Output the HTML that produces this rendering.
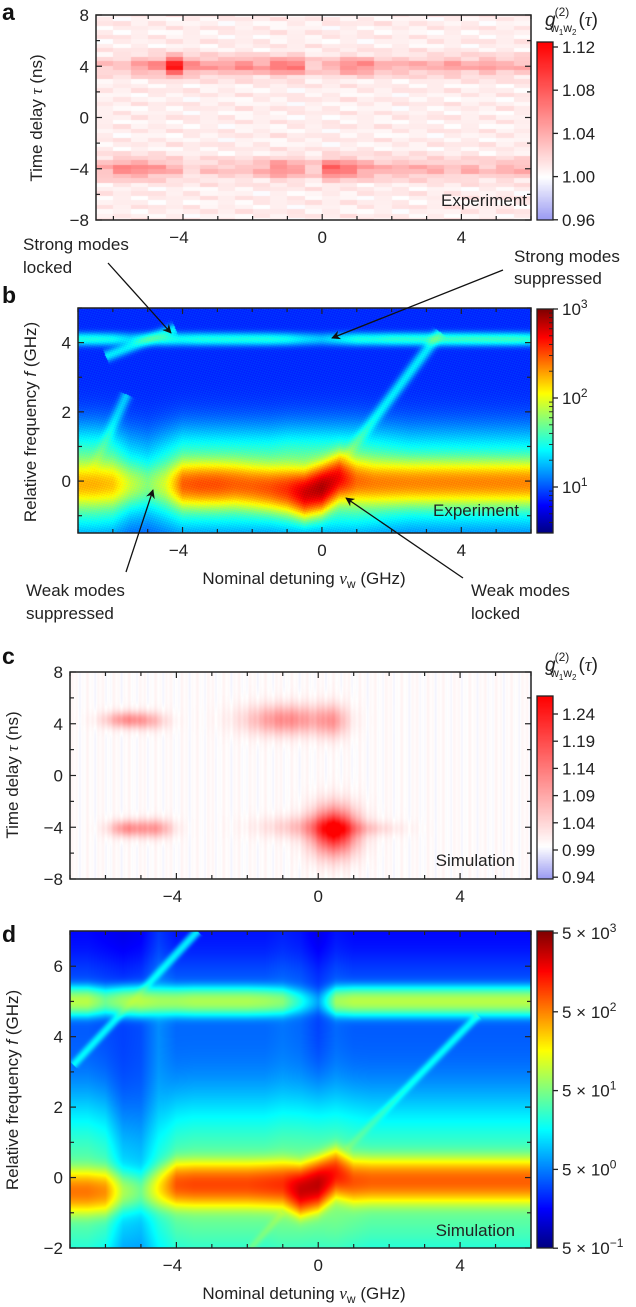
<!DOCTYPE html>
<html><head><meta charset="utf-8">
<style>
html,body{margin:0;padding:0;background:#fff;}
#root{position:relative;width:636px;height:1307px;overflow:hidden;font-family:"Liberation Sans",sans-serif;}
canvas{position:absolute;}
svg{position:absolute;left:0;top:0;}
</style></head>
<body>
<div id="root">
<canvas id="ca"></canvas>
<canvas id="cb"></canvas>
<canvas id="cc"></canvas>
<canvas id="cd"></canvas>
<canvas id="kba"></canvas>
<canvas id="kbb"></canvas>
<canvas id="kbc"></canvas>
<canvas id="kbd"></canvas>
<svg id="ov" width="636" height="1307"></svg>
</div>
<script>
// ---------- data ----------
const aCols = [-6.5,-6,-5.5,-5,-4.5,-4,-3.5,-3,-2.5,-2,-1.5,-1,-0.5,0,0.5,1,1.5,2,2.5,3,3.5,4,4.5,5,5.5];
const aBandPos = [0.02,0.02,0.04,0.05,0.11,0.05,0.04,0.04,0.05,0.04,0.06,0.06,0.02,0.03,0.05,0.05,0.03,0.03,0.03,0.03,0.04,0.03,0.04,0.03,0.03];
const aBandNeg = [0.03,0.05,0.05,0.04,0.03,0.01,0.02,0.02,0.02,0.03,0.05,0.04,0.02,0.07,0.06,0.04,0.03,0.03,0.03,0.03,0.02,0.03,0.02,0.03,0.03];
const bCols = [-7,-6.5,-6,-5.5,-5,-4.5,-4,-3.5,-3,-2.5,-2,-1.5,-1,-0.5,0,0.5,1,1.5,2,2.5,3,3.5,4,4.5,5,5.5,6];
const bCentral = [2.05,2.05,2.0,1.7,1.45,1.7,2.35,2.4,2.4,2.35,2.35,2.4,2.5,2.75,2.85,2.65,2.3,2.25,2.25,2.25,2.25,2.25,2.25,2.25,2.25,2.25,2.25];
const bCentre = [-0.1,-0.1,-0.1,-0.1,-0.1,-0.1,-0.1,-0.1,-0.1,-0.1,-0.15,-0.2,-0.25,-0.35,-0.2,0.1,0.0,-0.05,-0.05,-0.05,-0.05,-0.05,-0.05,-0.05,-0.05,-0.05,-0.05];
const b4Band = [1.35,1.35,1.3,1.1,1.25,1.35,1.3,1.35,1.35,1.35,1.35,1.35,1.3,1.15,1.05,1.2,1.35,1.35,1.4,1.4,1.4,1.45,1.45,1.45,1.45,1.45,1.4];
const bPedestal = [1.75,1.75,1.7,1.4,1.3,1.5,1.7,1.7,1.7,1.7,1.7,1.7,1.75,1.75,1.75,1.75,1.75,1.7,1.65,1.6,1.6,1.6,1.6,1.6,1.6,1.6,1.6];
const bLines = [[0.6,0.6,3.4,4.3,1.2],[-6.2,3.6,-4.2,4.4,1.2],[-6.6,0.3,-5.6,2.5,1.05]];
const cBlobX = [-5.4,-4.7,-5.4,-4.6,-0.9,0.4,0.45,-0.3,1.3];
const cBlobY = [4.3,4.2,-4.1,-4.1,4.3,4.2,-4.3,-4.0,-4.1];
const cBlobA = [0.11,0.05,0.11,0.10,0.12,0.08,0.25,0.06,0.04];
const cBlobWX = [0.45,0.35,0.35,0.35,0.8,0.3,0.45,0.9,0.7];
const cBlobWY = [0.45,0.5,0.45,0.5,0.8,0.9,1.3,0.6,0.4];
const dCols = [-7,-6.5,-6,-5.5,-5,-4.5,-4,-3.5,-3,-2.5,-2,-1.5,-1,-0.5,0,0.5,1,1.5,2,2.5,3,3.5,4,4.5,5,5.5,6];
const dCentral = [2.7,2.7,2.6,1.8,1.5,2.2,2.85,2.9,2.9,2.9,2.9,2.95,3.0,3.4,3.45,3.1,2.85,2.8,2.8,2.8,2.8,2.8,2.8,2.8,2.8,2.8,2.8];
const dCentre = [-0.4,-0.4,-0.4,-0.4,-0.4,-0.3,-0.2,-0.2,-0.2,-0.2,-0.2,-0.2,-0.2,-0.35,-0.2,0.1,-0.1,-0.1,-0.1,-0.1,-0.1,-0.1,-0.1,-0.1,-0.1,-0.1,-0.1];
const d5Band = [1.9,1.9,1.6,1.8,1.9,1.8,1.8,1.85,1.85,1.85,1.85,1.8,1.7,1.2,0.6,1.8,1.9,1.9,1.9,1.9,1.9,1.9,1.9,1.9,1.9,1.9,1.9];
const dPedestal = [1.6,1.6,1.5,1.0,0.9,1.3,1.6,1.65,1.65,1.65,1.65,1.65,1.7,1.7,1.7,1.7,1.65,1.6,1.6,1.6,1.6,1.6,1.6,1.6,1.6,1.6,1.6];
const dBg = [0.55,0.55,0.5,0.45,0.5,0.75,0.6,0.6,0.6,0.6,0.6,0.6,0.65,0.6,0.45,0.6,0.55,0.55,0.55,0.55,0.55,0.55,0.55,0.55,0.55,0.55,0.55];
const dLines = [[0.8,0.8,4.5,4.6,1.05],[-6.9,3.2,-3.4,7.0,1.05],[-1.9,-2.0,-1.0,-1.0,1.2]];

// ---------- helpers ----------
function interp(xs,ys,x){
  if(x<=xs[0])return ys[0]; if(x>=xs[xs.length-1])return ys[ys.length-1];
  for(let i=0;i<xs.length-1;i++){ if(x<=xs[i+1]){const t=(x-xs[i])/(xs[i+1]-xs[i]);return ys[i]+t*(ys[i+1]-ys[i]);} }
}
const cl=v=>Math.max(0,Math.min(1,v));
function jet(t){t=cl(t);return [cl(1.5-Math.abs(4*t-3)),cl(1.5-Math.abs(4*t-2)),cl(1.5-Math.abs(4*t-1))];}
function div(v,lo,hi){
  if(v>=1){const t=cl((v-1)/(hi-1));return [1,1-t,1-t];}
  const t=cl((1-v)/(1-lo));return [1-0.4*t,1-0.4*t,1-0.05*t];
}
function lineDist(L,x,f){const [x0,f0,x1,f1]=L;const dx=x1-x0,df=f1-f0;let t=((x-x0)*dx+(f-f0)*df)/(dx*dx+df*df);if(t<0||t>1)return 99;const px=x0+t*dx,pf=f0+t*df;return Math.hypot((x-px),(f-pf));}
function paint(id,x,y,w,h,fn){
  const c=document.getElementById(id);c.width=w;c.height=h;c.style.left=x+'px';c.style.top=y+'px';
  const ctx=c.getContext('2d');const img=ctx.createImageData(w,h);
  for(let j=0;j<h;j++)for(let i=0;i<w;i++){const col=fn(i,j,w,h);const k=(j*w+i)*4;
    img.data[k]=col[0]*255;img.data[k+1]=col[1]*255;img.data[k+2]=col[2]*255;img.data[k+3]=255;}
  ctx.putImageData(img,0,0);
}
const g=(d,s)=>Math.exp(-d*d/(2*s*s));

const PA={x:96,y:15,w:435,h:205,x0:-6.5,x1:6,y0:-8,y1:8};
const PB={x:78,y:308,w:453,h:225,x0:-7,x1:6,y0:-1.5,y1:5};
const PC={x:70,y:672,w:461,h:207,x0:-7,x1:6,y0:-8,y1:8};
const PD={x:70,y:931,w:461,h:317,x0:-7,x1:6,y0:-2,y1:7};
const X=(P,i)=>P.x0+(i+0.5)/P.w*(P.x1-P.x0);
const Y=(P,j)=>P.y1-(j+0.5)/P.h*(P.y1-P.y0);

paint('ca',PA.x,PA.y,PA.w,PA.h,(i,j)=>{
  const x=X(PA,i),t=Y(PA,j);
  const bi=Math.min(aCols.length-1,Math.floor((x-PA.x0)/0.5));
  const tb=Math.round(t/0.35)*0.35;
  const v=1.008+aBandPos[bi]*g(tb-4,0.5)+aBandNeg[bi]*g(tb+4,0.55)+0.01*Math.sin(tb*9.3+bi*2.1)*Math.cos(bi*1.7+tb*3.1);
  return div(v,0.96,1.1245);
});
paint('cb',PB.x,PB.y,PB.w,PB.h,(i,j)=>{
  const x=X(PB,i),f=Y(PB,j);
  let I=Math.pow(10,0.9);
  I+=Math.pow(10,interp(bCols,bCentral,x))*g(f-interp(bCols,bCentre,x),0.33);
  I+=Math.pow(10,interp(bCols,bPedestal,x))*g(f,0.8);
  I+=Math.pow(10,interp(bCols,b4Band,x))*g(f-4.1,0.11);
  for(const L of bLines)I+=Math.pow(10,L[4])*g(lineDist(L,x,f),0.1);
  const lv=Math.log10(I)+0.07*Math.sin(i*1.7+j*2.3)*Math.cos(i*0.9-j*1.3);
  return jet((lv-0.48)/(3-0.48));
});
paint('cc',PC.x,PC.y,PC.w,PC.h,(i,j)=>{
  const x=X(PC,i),t=Y(PC,j);
  let v=1.003+0.01*Math.sin(i*0.83)*Math.cos(i*0.37);
  for(let k=0;k<cBlobX.length;k++)v+=cBlobA[k]*g(x-cBlobX[k],cBlobWX[k])*g(t-cBlobY[k],cBlobWY[k]);
  return div(v,0.94,1.273);
});
paint('cd',PD.x,PD.y,PD.w,PD.h,(i,j)=>{
  const x=X(PD,i),f=Y(PD,j);
  const fade=1-0.55/(1+Math.exp(-(f-6)/0.3));
  let I=Math.pow(10,interp(dCols,dBg,x))*fade;
  I+=Math.pow(10,interp(dCols,dCentral,x))*g(f-interp(dCols,dCentre,x),0.3);
  I+=Math.pow(10,interp(dCols,dPedestal,x))*g(f+0.4,1.3);
  I+=Math.pow(10,interp(dCols,d5Band,x))*g(f-5,0.2);
  for(const L of dLines)I+=Math.pow(10,L[4])*g(lineDist(L,x,f),0.07);
  const lv=Math.log10(I);
  return jet((lv+0.3)/4);
});
paint('kba',537,42,16,178,(i,j,w,h)=>div(1.1245-(j/h)*(1.1245-0.96),0.96,1.1245));
paint('kbb',537,309,16,224,(i,j,w,h)=>jet(1-j/h));
paint('kbc',537,696,16,183,(i,j,w,h)=>div(1.273-(j/h)*(1.273-0.94),0.94,1.273));
paint('kbd',537,931,16,317,(i,j,w,h)=>jet(1-j/h));

const NS='http://www.w3.org/2000/svg';
const ov=document.getElementById('ov');
const FS=17;
function el(tag,attrs,parent){const e=document.createElementNS(NS,tag);for(const k in attrs)e.setAttribute(k,attrs[k]);(parent||ov).appendChild(e);return e;}
function txt(s,x,y,anchor,size,parent){const t=el('text',{x:x,y:y,'text-anchor':anchor||'middle','font-size':size||FS,fill:'#222'},parent);t.textContent=s;return t;}
function axes(P,name,xMaj,xMin,yMaj,yMin,yLabels,showXLabels){
  const gp=el('g',{});
  
  
  el('rect',{x:P.x,y:P.y,width:P.w,height:P.h,fill:'none',stroke:'#222','stroke-width':1.5},gp);
  const sx=v=>P.x+(v-P.x0)/(P.x1-P.x0)*P.w, sy=v=>P.y+(P.y1-v)/(P.y1-P.y0)*P.h;
  for(let v=Math.ceil(P.x0/xMin)*xMin;v<=P.x1+1e-9;v+=xMin){const maj=Math.abs(v/xMaj-Math.round(v/xMaj))<1e-6;const L=maj?6:4;
    el('line',{x1:sx(v),x2:sx(v),y1:P.y+P.h,y2:P.y+P.h-L,stroke:'#222','stroke-width':1.2},gp);
    el('line',{x1:sx(v),x2:sx(v),y1:P.y,y2:P.y+L,stroke:'#222','stroke-width':1.2},gp);
    if(maj&&showXLabels){txt(v<0?'\u2212'+(-v):String(v),sx(v)-(v<0?4:0),P.y+P.h+23,'middle',FS,gp);} }
  for(let v=Math.ceil(P.y0/yMin)*yMin;v<=P.y1+1e-9;v+=yMin){const maj=yLabels.includes(v);const L=maj?6:4;
    el('line',{x1:P.x,x2:P.x+L,y1:sy(v),y2:sy(v),stroke:'#222','stroke-width':1.2},gp);
    el('line',{x1:P.x+P.w,x2:P.x+P.w-L,y1:sy(v),y2:sy(v),stroke:'#222','stroke-width':1.2},gp);
    if(maj){txt(v<0?'\u2212'+(-v):String(v),P.x-7,sy(v)+6,'end',FS,gp);} }
}
axes(PA,'panel-a',4,1,4,2,[-8,-4,0,4,8],true);
axes(PB,'panel-b',4,1,2,1,[0,2,4],true);
axes(PC,'panel-c',4,1,4,2,[-8,-4,0,4,8],true);
axes(PD,'panel-d',4,1,2,1,[-2,0,2,4,6],true);
function cbar(x,y,h,ticks,name){
  const gp=el('g',{});
  
  
  el('rect',{x:x,y:y,width:16,height:h,fill:'none',stroke:'#222','stroke-width':1.3},gp);
  for(const t of ticks){el('line',{x1:x+16,x2:x+21,y1:t[0],y2:t[0],stroke:'#222','stroke-width':1.3},gp);
    const e=el('text',{x:x+25,y:t[0]+6,'font-size':FS,fill:'#222'},gp);e.innerHTML=t[1];}
  return gp;
}
const cbALabels=['1.12','1.08','1.04','1.00','0.96'];
cbar(537,42,178,cbALabels.map((s,k)=>[47+k*43.2,s]),'colorbar-a-axis');
const cbBTicks=[[309,'10<tspan dy="-7" font-size="12">3</tspan>'],[398,'10<tspan dy="-7" font-size="12">2</tspan>'],[487,'10<tspan dy="-7" font-size="12">1</tspan>']];
const gb=cbar(537,309,224,cbBTicks,'colorbar-b-axis');
for(let d=0;d<3;d++)for(let m=2;m<10;m++){const yy=487+89*(1-d)-89*Math.log10(m);if(yy>309&&yy<533)el('line',{x1:553,x2:549,y1:yy,y2:yy,stroke:'#222','stroke-width':0.9},gb);}
const cbCLabels=['1.24','1.19','1.14','1.09','1.04','0.99','0.94'];
cbar(537,696,183,cbCLabels.map((s,k)=>[714+k*27.2,s]),'colorbar-c-axis');
const cbDLabels=['3','2','1','0','\u22121'];
cbar(537,931,317,cbDLabels.map((s,k)=>[933+k*78.8,'5 \u00d7 10<tspan dy="-7" font-size="12">'+s+'</tspan>']),'colorbar-d-axis');

function rot(s,x,y,name){const t=el('text',{x:0,y:0,'text-anchor':'middle','font-size':FS,fill:'#222',transform:`translate(${x},${y}) rotate(-90)`});t.innerHTML=s;
  
  }
rot('Time delay <tspan font-style="italic" font-family="Liberation Serif">τ</tspan> (ns)',42,118,'y-axis-title-a');
rot('Relative frequency <tspan font-style="italic">f</tspan> (GHz)',36,422,'y-axis-title-b');
rot('Time delay <tspan font-style="italic" font-family="Liberation Serif">τ</tspan> (ns)',18,775,'y-axis-title-c');
rot('Relative frequency <tspan font-style="italic">f</tspan> (GHz)',18,1090,'y-axis-title-d');
function xt(y,name){const t=el('text',{x:304,y:y,'text-anchor':'middle','font-size':FS,fill:'#222'});
  t.innerHTML='Nominal detuning <tspan font-style="italic" font-family="Liberation Serif">ν</tspan><tspan font-size="12" dy="4">w</tspan><tspan dy="-4"> (GHz)</tspan>';
  
  }
xt(584,'x-axis-title-b');xt(1299,'x-axis-title-d');
function g2(y,name){const t=el('text',{x:545,y:y,'font-size':19,fill:'#222'});
  t.innerHTML='<tspan font-style="italic">g</tspan><tspan font-size="12" dy="-10" dx="-1">(2)</tspan><tspan font-size="12" dy="16" dx="-19">w</tspan><tspan font-size="8" dy="3">1</tspan><tspan font-size="12" dy="-3">w</tspan><tspan font-size="8" dy="3">2</tspan><tspan dy="-9" dx="2">(</tspan><tspan font-family="Liberation Serif" font-style="italic">τ</tspan><tspan>)</tspan>';
  
  }
g2(26,'colorbar-title-a');g2(671,'colorbar-title-c');
[['a',20],['b',303],['c',664],['d',942]].forEach(([s,y])=>{const t=el('text',{x:2,y:y,'font-size':23,'font-weight':'bold',fill:'#111'});t.textContent=s;
  
  });
[['Experiment',527,206],['Experiment',519,516],['Simulation',515,866],['Simulation',515,1236]].forEach(([s,x,y],k)=>{const t=txt(s,x,y,'end',FS);
  
  });
el('defs',{}).innerHTML='<marker id="ah" viewBox="0 0 10 10" refX="9" refY="5" markerWidth="7" markerHeight="7" orient="auto"><path d="M0,0 L10,5 L0,10 L3,5z" fill="#111"/></marker>';
const ann=[
 ['Strong modes','locked',23,250,273,'start',108,263,171,333],
 ['Strong modes','suppressed',514,262,284,'start',503,270,332,338],
 ['Weak modes','suppressed',26,596,619,'start',126,572,153,490],
 ['Weak modes','locked',471,596,619,'start',463,578,346,498]];
ann.forEach((a,k)=>{
  const t1=txt(a[0],a[2],a[3],a[5],FS);
  
  
  const t2=txt(a[1],a[2],a[4],a[5],FS);
  
  
  const l=el('line',{x1:a[6],y1:a[7],x2:a[8],y2:a[9],stroke:'#111','stroke-width':1.3,'marker-end':'url(#ah)'});
  
  
});
</script>
</body></html>
